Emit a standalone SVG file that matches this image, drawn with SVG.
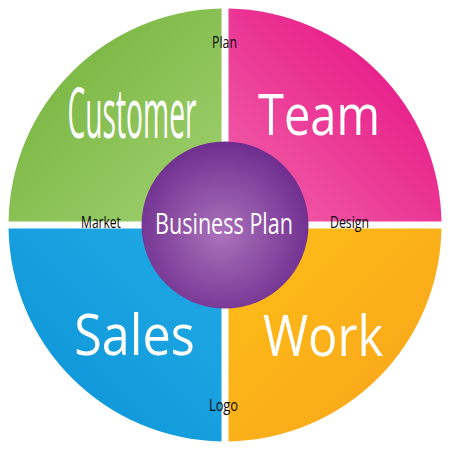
<svg xmlns="http://www.w3.org/2000/svg" width="450" height="450" viewBox="0 0 450 450">
<defs>
<linearGradient id="gGreen" x1="0" y1="0" x2="1" y2="1"><stop offset="0" stop-color="#6fb035"/><stop offset="1" stop-color="#a2d172"/></linearGradient>
<linearGradient id="gPink" x1="1" y1="0" x2="0" y2="1"><stop offset="0" stop-color="#e4087f"/><stop offset="1" stop-color="#f264aa"/></linearGradient>
<linearGradient id="gBlue" x1="0" y1="1" x2="1" y2="0"><stop offset="0" stop-color="#0a93d6"/><stop offset="1" stop-color="#22aae6"/></linearGradient>
<linearGradient id="gOrange" x1="1" y1="1" x2="0" y2="0"><stop offset="0" stop-color="#f9a21b"/><stop offset="1" stop-color="#fdbf17"/></linearGradient>
<radialGradient id="gPurple" cx="0.48" cy="0.55" r="0.55"><stop offset="0" stop-color="#ab72bb"/><stop offset="1" stop-color="#6f2e8f"/></radialGradient>
<style>
.big{font-family:"Open Sans","DejaVu Sans",sans-serif;fill:#fff;text-anchor:middle}
.small{font-family:"Open Sans","DejaVu Sans",sans-serif;fill:#0a0a0a;font-size:17px;text-anchor:middle}
</style>
</defs>
<rect width="450" height="450" fill="#fff"/>
<g id="customer">
<path d="M221.5 221.5V8.53A216.5 216.5 0 0 0 8.53 221.5Z" fill="url(#gGreen)"/>
<text class="big" transform="translate(132 138) scale(0.5 1)" font-size="70" textLength="258" lengthAdjust="spacingAndGlyphs">Customer</text>
</g>
<g id="team">
<path d="M228.5 221.5V8.53A216.5 216.5 0 0 1 441.47 221.5Z" fill="url(#gPink)"/>
<text class="big" transform="translate(319 135) scale(0.85 1)" font-size="56" textLength="143.5" lengthAdjust="spacingAndGlyphs">Team</text>
</g>
<g id="sales">
<path d="M221.5 228.5V441.47A216.5 216.5 0 0 1 8.53 228.5Z" fill="url(#gBlue)"/>
<text class="big" transform="translate(134.5 355) scale(0.9 1)" font-size="56" textLength="134" lengthAdjust="spacingAndGlyphs">Sales</text>
</g>
<g id="work">
<path d="M228.5 228.5H441.47A216.5 216.5 0 0 1 228.5 441.47Z" fill="url(#gOrange)"/>
<text class="big" transform="translate(323 356) scale(0.87 1)" font-size="56" textLength="138" lengthAdjust="spacingAndGlyphs">Work</text>
</g>
<g id="business-plan">
<circle cx="225" cy="225" r="83.5" fill="url(#gPurple)"/>
<text class="big" transform="translate(224 234) scale(0.74 1)" font-size="29" textLength="186.5" lengthAdjust="spacingAndGlyphs">Business Plan</text>
</g>
<g id="labels">
<text class="small" transform="translate(224.5 48) scale(0.71 1)" textLength="35" lengthAdjust="spacingAndGlyphs">Plan</text>
<text class="small" transform="translate(101 228) scale(0.71 1)" textLength="56" lengthAdjust="spacingAndGlyphs">Market</text>
<text class="small" transform="translate(349.5 228) scale(0.71 1)" textLength="55" lengthAdjust="spacingAndGlyphs">Design</text>
<text class="small" transform="translate(223.5 411) scale(0.73 1)" textLength="40" lengthAdjust="spacingAndGlyphs">Logo</text>
</g>
<g id="connectors"/>
</svg>
